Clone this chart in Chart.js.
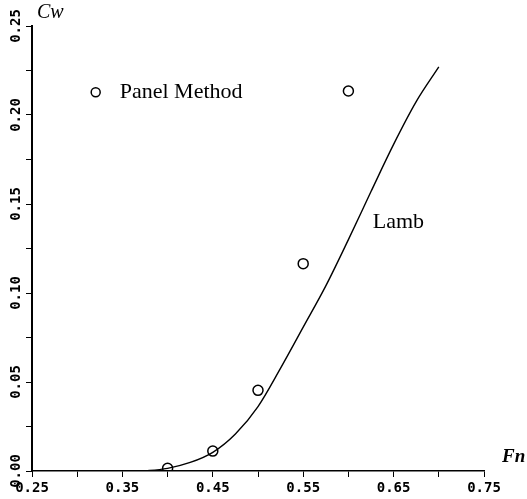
<!DOCTYPE html>
<html>
<head>
<meta charset="utf-8">
<script src="https://cdn.jsdelivr.net/npm/chart.js@4"></script>
<style>
  html, body { margin: 0; padding: 0; background: #fff; }
  #wrap { width: 527px; height: 499px; }
</style>
</head>
<body>
<div id="wrap"><canvas id="cw-chart" width="527" height="499"></canvas></div>
<script>
// ── Data ──────────────────────────────────────────────────────────────
const panelFn = [0.40, 0.45, 0.50, 0.55, 0.60];
const panelCw = [0.0015, 0.0112, 0.0453, 0.1165, 0.2135];

const lambFn = [0.36, 0.38, 0.40, 0.425, 0.45, 0.475, 0.50, 0.525, 0.55, 0.575, 0.60, 0.625, 0.65, 0.675, 0.70];
const lambCw = [0.0, 0.0003, 0.0015, 0.0048, 0.0105, 0.0208, 0.0362, 0.0578, 0.0808, 0.1040, 0.130, 0.157, 0.1835, 0.2075, 0.227];

const xTicks = ['0.25', '0.35', '0.45', '0.55', '0.65', '0.75'];
const yTicks = ['0.00', '0.05', '0.10', '0.15', '0.20', '0.25'];

const legendAt = [0.347, 0.2128];   // "Panel Method" label
const lambAt   = [0.627, 0.140];    // "Lamb" label

// ── Helpers ───────────────────────────────────────────────────────────
const pairs = (xs, ys) => xs.map((v, i) => ({ x: v, y: ys[i] }));
const tickFont = { family: '"DejaVu Sans Mono"', size: 14, weight: 'bold' };

// ── Text overlay (legend, curve label, axis titles) ───────────────────
const annotate = {
    id: 'annotate',
    afterDraw(chart) {
        const { ctx, scales: { x, y } } = chart;
        ctx.save();
        ctx.fillStyle = '#000';
        ctx.strokeStyle = '#000';
        ctx.textBaseline = 'middle';
        ctx.textAlign = 'left';

        // legend
        ctx.font = '22px "Liberation Serif"';
        const lx = x.getPixelForValue(legendAt[0]);
        const ly = y.getPixelForValue(legendAt[1]);
        ctx.fillText('Panel Method', lx, ly);
        ctx.lineWidth = 1.5;
        ctx.beginPath();
        ctx.arc(lx - 24, ly, 4.5, 0, Math.PI * 2);
        ctx.stroke();

        // curve label
        ctx.fillText('Lamb', x.getPixelForValue(lambAt[0]), y.getPixelForValue(lambAt[1]));

        // axis titles
        ctx.textBaseline = 'alphabetic';
        ctx.font = 'italic 20px "Liberation Serif"';
        ctx.fillText('Cw', x.left + 5, y.top - 8);
        ctx.font = 'italic bold 19px "Liberation Serif"';
        ctx.fillText('Fn', x.right + 18, y.bottom - 9);
        ctx.restore();
    },
};

// ── Chart ─────────────────────────────────────────────────────────────
new Chart(document.getElementById('cw-chart'), {
    type: 'scatter',
    data: {
        datasets: [
            {
                label:           'Lamb',
                data:            pairs(lambFn, lambCw),
                showLine:        true,
                borderColor:     '#000',
                borderWidth:     1.4,
                pointRadius:     0,
                cubicInterpolationMode: 'monotone',
                fill:            false,
            },
            {
                label:           'Panel Method',
                data:            pairs(panelFn, panelCw),
                showLine:        false,
                pointStyle:      'circle',
                pointRadius:     5,
                borderColor:     '#000',
                borderWidth:     1.5,
                backgroundColor: 'rgba(255,255,255,0)',
            },
        ],
    },
    options: {
        responsive: false,
        animation:  false,
        layout: { padding: { top: 26, right: 43, left: 0, bottom: 0 } },
        plugins: {
            legend:  { display: false },
            tooltip: { enabled: false },
        },
        scales: {
            x: {
                type: 'linear',
                min:  0.25,
                max:  0.75,
                afterFit: s => { s.height = 28; },
                border: { color: '#000', width: 1.5 },
                grid: { drawOnChartArea: false, color: '#000', tickLength: 6, lineWidth: 1 },
                ticks: {
                    stepSize: 0.05,
                    autoSkip: false,
                    maxRotation: 0,
                    padding: 3,
                    color: '#000',
                    font: tickFont,
                    callback: v => xTicks.find(t => Math.abs(+t - v) < 1e-6) || '',
                },
            },
            y: {
                type: 'linear',
                min:  0,
                max:  0.25,
                afterFit: s => { s.width = 32; },
                border: { color: '#000', width: 2 },
                grid: { drawOnChartArea: false, color: '#000', tickLength: 6, lineWidth: 1 },
                ticks: {
                    stepSize: 0.025,
                    autoSkip: false,
                    minRotation: 90,
                    maxRotation: 90,
                    crossAlign: 'center',
                    padding: -7,
                    color: '#000',
                    font: tickFont,
                    callback: v => yTicks.find(t => Math.abs(+t - v) < 1e-6) || '',
                },
            },
        },
    },
    plugins: [annotate],
});
</script>
</body>
</html>
